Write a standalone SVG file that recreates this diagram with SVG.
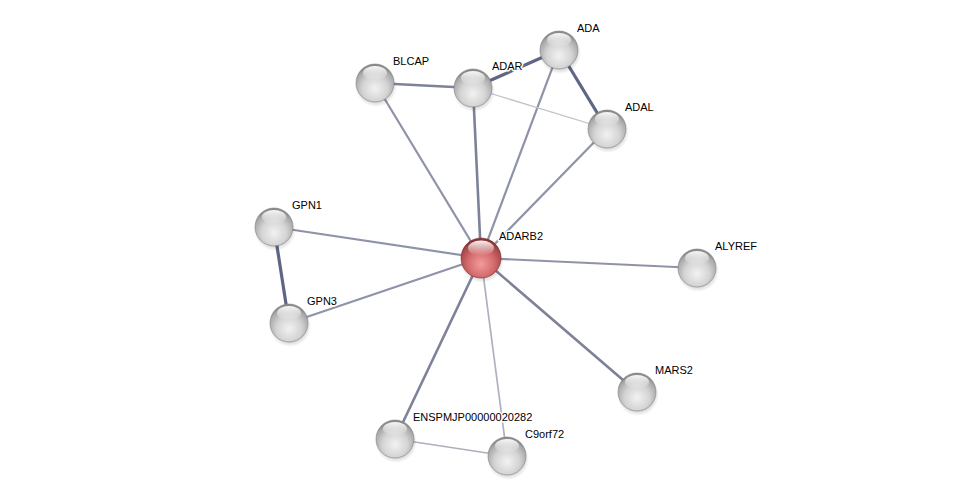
<svg xmlns="http://www.w3.org/2000/svg" width="975" height="500" viewBox="0 0 975 500">
<defs>
<radialGradient id="gw" cx="0.5" cy="0.65" r="0.6">
<stop offset="0" stop-color="#f2f2f2"/>
<stop offset="0.55" stop-color="#d4d4d4"/>
<stop offset="0.9" stop-color="#a8a8a8"/>
<stop offset="1" stop-color="#8a8a8a"/>
</radialGradient>
<radialGradient id="gr" cx="0.5" cy="0.65" r="0.6">
<stop offset="0" stop-color="#f29c9c"/>
<stop offset="0.55" stop-color="#d46a6c"/>
<stop offset="0.9" stop-color="#a8484a"/>
<stop offset="1" stop-color="#8a3436"/>
</radialGradient>
<linearGradient id="hl" x1="0" y1="0" x2="0" y2="1">
<stop offset="0" stop-color="#fff" stop-opacity="0.95"/>
<stop offset="1" stop-color="#fff" stop-opacity="0"/>
</linearGradient>
<radialGradient id="sh" cx="0.5" cy="0.5" r="0.5">
<stop offset="0.6" stop-color="#000" stop-opacity="0.25"/>
<stop offset="1" stop-color="#000" stop-opacity="0"/>
</radialGradient>
<g id="ball">
<circle cx="1" cy="3" r="21" fill="url(#sh)"/>
<circle r="19" fill="url(#gw)" stroke="#808080" stroke-width="0.6"/>
<ellipse cy="-10" rx="12" ry="7" fill="url(#hl)"/>
</g>
<g id="rball">
<circle cx="1" cy="3" r="22" fill="url(#sh)"/>
<circle r="20" fill="url(#gr)" stroke="#7a3030" stroke-width="0.6"/>
<ellipse cy="-10" rx="13" ry="7.5" fill="url(#hl)"/>
</g>
</defs>
<style>
.e{stroke:#8f93a8;fill:none;stroke-width:2.2}
.t{stroke:#5e6585;stroke-width:3.2}
.m{stroke:#7d8299;stroke-width:2.6}
.l{stroke:#c0c2cc;stroke-width:1.3}
.p{stroke:#aeb0bc;stroke-width:1.7}
text{font-family:"Liberation Sans",Arial,sans-serif;font-size:11px;fill:#000;stroke:#fff;stroke-width:3;stroke-linejoin:round;paint-order:stroke}
</style>
<rect width="975" height="500" fill="#fff"/>
<g id="edges">
<line class="e" x1="481" y1="258" x2="375" y2="83"/>
<line class="e m" x1="481" y1="258" x2="473" y2="88"/>
<line class="e" x1="481" y1="258" x2="559" y2="50"/>
<line class="e" x1="481" y1="258" x2="607" y2="129"/>
<line class="e" x1="481" y1="258" x2="274" y2="227"/>
<line class="e" x1="481" y1="258" x2="289" y2="323"/>
<line class="e" x1="481" y1="258" x2="697" y2="268"/>
<line class="e m" x1="481" y1="258" x2="637" y2="392"/>
<line class="e m" x1="481" y1="258" x2="395" y2="439"/>
<line class="e p" x1="481" y1="258" x2="507" y2="456"/>
<line class="e m" x1="375" y1="83" x2="473" y2="88"/>
<line class="e t" x1="473" y1="88" x2="559" y2="50"/>
<line class="e l" x1="473" y1="88" x2="607" y2="129"/>
<line class="e t" x1="559" y1="50" x2="607" y2="129"/>
<line class="e t" x1="274" y1="227" x2="289" y2="323"/>
<line class="e p" x1="395" y1="439" x2="507" y2="456"/>
</g>
<g id="n-BLCAP"><use href="#ball" x="375" y="83"/><text x="393" y="65">BLCAP</text></g>
<g id="n-ADAR"><use href="#ball" x="473" y="88"/><text x="492" y="70">ADAR</text></g>
<g id="n-ADA"><use href="#ball" x="559" y="50"/><text x="577" y="32">ADA</text></g>
<g id="n-ADAL"><use href="#ball" x="607" y="129"/><text x="625" y="111">ADAL</text></g>
<g id="n-GPN1"><use href="#ball" x="274" y="227"/><text x="292" y="209">GPN1</text></g>
<g id="n-GPN3"><use href="#ball" x="289" y="323"/><text x="307" y="305">GPN3</text></g>
<g id="n-ALYREF"><use href="#ball" x="697" y="268"/><text x="715" y="250">ALYREF</text></g>
<g id="n-MARS2"><use href="#ball" x="637" y="392"/><text x="655" y="374">MARS2</text></g>
<g id="n-ENSPMJP00000020282"><use href="#ball" x="395" y="439"/><text x="413" y="421">ENSPMJP00000020282</text></g>
<g id="n-C9orf72"><use href="#ball" x="507" y="456"/><text x="525" y="438">C9orf72</text></g>
<g id="n-ADARB2"><use href="#rball" x="481" y="258"/><text x="499" y="240">ADARB2</text></g>
</svg>
